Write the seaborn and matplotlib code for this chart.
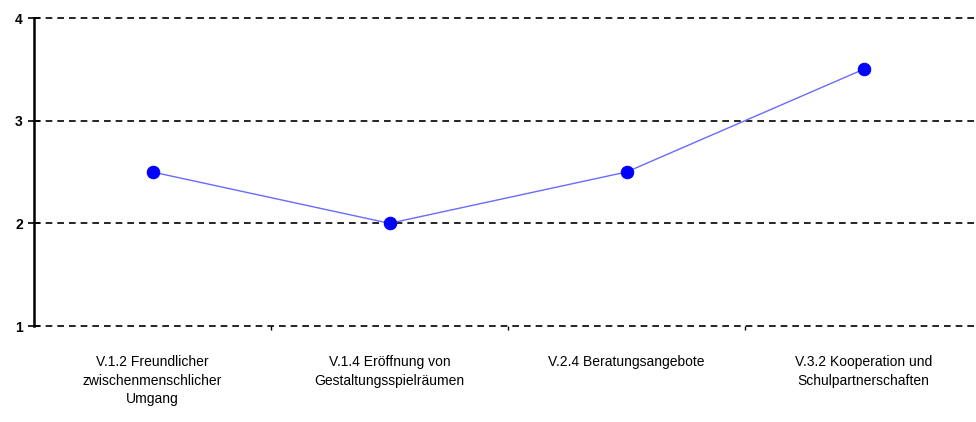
import matplotlib
matplotlib.use("Agg")
import matplotlib.pyplot as plt
import seaborn as sns
import pandas as pd
from matplotlib.ticker import FixedLocator

categories = [
    "V.1.2 Freundlicher\nzwischenmenschlicher\nUmgang",
    "V.1.4 Eröffnung von\nGestaltungsspielräumen",
    "V.2.4 Beratungsangebote",
    "V.3.2 Kooperation und\nSchulpartnerschaften",
]
values = [2.5, 2.0, 2.5, 3.5]
y_ticks = [1, 2, 3, 4]

sns.set_style("white")
plt.rcParams['font.family'] = ['Liberation Sans', 'DejaVu Sans']
plt.rcParams['text.color'] = 'black'
plt.rcParams['xtick.color'] = 'black'
plt.rcParams['ytick.color'] = 'black'

fig = plt.figure(figsize=(9.76, 4.22), dpi=100)
ax = fig.add_axes([34/976, 96/422, 1 - 34/976, 308/422])

df = pd.DataFrame({"x": list(range(len(categories))), "y": values})
sns.lineplot(data=df, x="x", y="y", ax=ax, color="#6a6aff", linewidth=1.0,
             marker="o", markersize=9, markerfacecolor="#0000ff",
             markeredgecolor="#0000ff")

ax.set_ylim(1, 4)
ax.set_xlim(-0.5, 3.5 - 6/237)
ax.set_yticks(y_ticks)
ax.set_yticklabels([str(t) for t in y_ticks], fontsize=10, color="black", fontweight="bold")
ax.set_xticks(range(len(categories)))
ax.set_xticklabels(categories, fontsize=10, linespacing=1.42, va="top", color="black")
ax.xaxis.set_minor_locator(FixedLocator([0.5, 1.5, 2.5]))
ax.tick_params(axis="x", which="major", bottom=True, length=0, pad=21)
ax.tick_params(axis="x", which="minor", bottom=True, length=3, width=1, color="black", direction="out")
ax.tick_params(axis="y", which="major", left=True, length=8, width=1.2, color="black", direction="inout", pad=4)

for t in y_ticks:
    ax.axhline(t, color="black", linestyle=(0, (4, 3)), linewidth=1.2, zorder=0, clip_on=False)

for s in ["top", "right", "bottom"]:
    ax.spines[s].set_visible(False)
ax.spines["left"].set_color("black")
ax.spines["left"].set_linewidth(1.8)
ax.set_xlabel("")
ax.set_ylabel("")

fig.savefig("out.png", dpi=100)
